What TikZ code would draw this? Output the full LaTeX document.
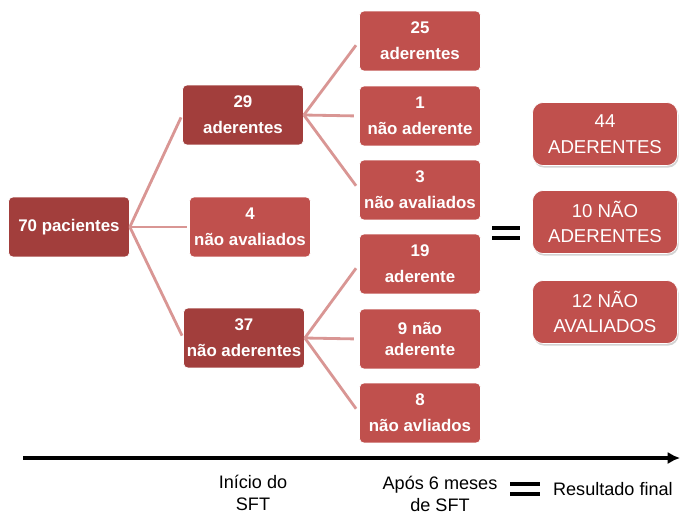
\documentclass[tikz,border=0pt]{standalone}
\usepackage{fontspec}
\setmainfont{Liberation Sans}
\usepackage{tikz}
\usetikzlibrary{arrows.meta, positioning, shadows}

\definecolor{boxred}{HTML}{C0504D}
\definecolor{darkred}{HTML}{A23E3C}
\definecolor{linkred}{HTML}{D99694}

\tikzset{
  box/.style={fill=boxred, draw=white, line width=0.4pt, rounded corners=2.5pt,
              minimum width=2.42cm, minimum height=1.2cm, text=white, align=center,
              font=\fontsize{9.6}{14.8}\selectfont\bfseries, inner sep=1pt},
  darkbox/.style={box, fill=darkred},
  resbox/.style={box, rounded corners=6pt, minimum width=2.9cm, minimum height=1.26cm,
                 font=\fontsize{10.6}{14.6}\selectfont, drop shadow={opacity=0.35, shadow xshift=0.6pt, shadow yshift=-1.2pt}},
  link/.style={linkred, line width=1.6pt, shorten >=1.5pt},
  eqbar/.style={line width=1.9pt},
  axislabel/.style={align=center, font=\fontsize{10.3}{12.6}\selectfont}
}

\begin{document}
\begin{tikzpicture}[x=0.02cm, y=-0.02cm]
  \useasboundingbox (0,0) rectangle (680,514);

  % start of the tree
  \node[darkbox] (root) at (69,227) {70 pacientes};

  % first level
  \node[darkbox] (ad) at (243,115) {29\\aderentes};
  \node[box] (nav) at (250,227) {4\\não avaliados};
  \node[darkbox] (nad) at (244,338) {37\\não aderentes};

  % second level (after 6 months)
  \node[box] (adA) at (420,41) {25\\aderentes};
  \node[box] (adB) at (420,116) {1\\não aderente};
  \node[box] (adC) at (420,190) {3\\não avaliados};
  \node[box] (nadA) at (420,264) {19\\aderente};
  \node[box, font=\fontsize{9.6}{12.4}\selectfont\bfseries] (nadB) at (420,339) {9 não\\aderente};
  \node[box] (nadC) at (420,413) {8\\não avliados};

  % final result
  \node[resbox] (resA) at (605,134) {44\\ADERENTES};
  \node[resbox] (resB) at (605,222) {10 NÃO\\ADERENTES};
  \node[resbox] (resC) at (605,312) {12 NÃO\\AVALIADOS};

  % connectors
  \foreach \k in {ad,nav,nad} { \draw[link] (root.east) -- (\k.west); }
  \foreach \k in {adA,adB,adC} { \draw[link, shorten >=3pt] (ad.east) -- (\k.west); }
  \foreach \k in {nadA,nadB,nadC} { \draw[link, shorten >=3pt] (nad.east) -- (\k.west); }

  % equals sign between the columns
  \draw[eqbar] (492,228) -- (520,228);
  \draw[eqbar] (492,238) -- (520,238);

  % time axis
  \coordinate (tstart) at (23,458);
  \coordinate (tend) at (680,458);
  \draw[line width=2.4pt, -{Latex[length=7pt, width=7pt]}] (tstart) -- (tend);

  \node[axislabel] (tbegin) at (253,493) {Início do\\SFT};
  \node[axislabel] (tsix) at (440,494) {Após 6 meses\\de SFT};
  \node[axislabel, anchor=east] (tfinal) at (679,489) {Resultado final};
  \draw[eqbar] (510,484) -- (540,484);
  \draw[eqbar] (510,494) -- (540,494);
\end{tikzpicture}
\end{document}
